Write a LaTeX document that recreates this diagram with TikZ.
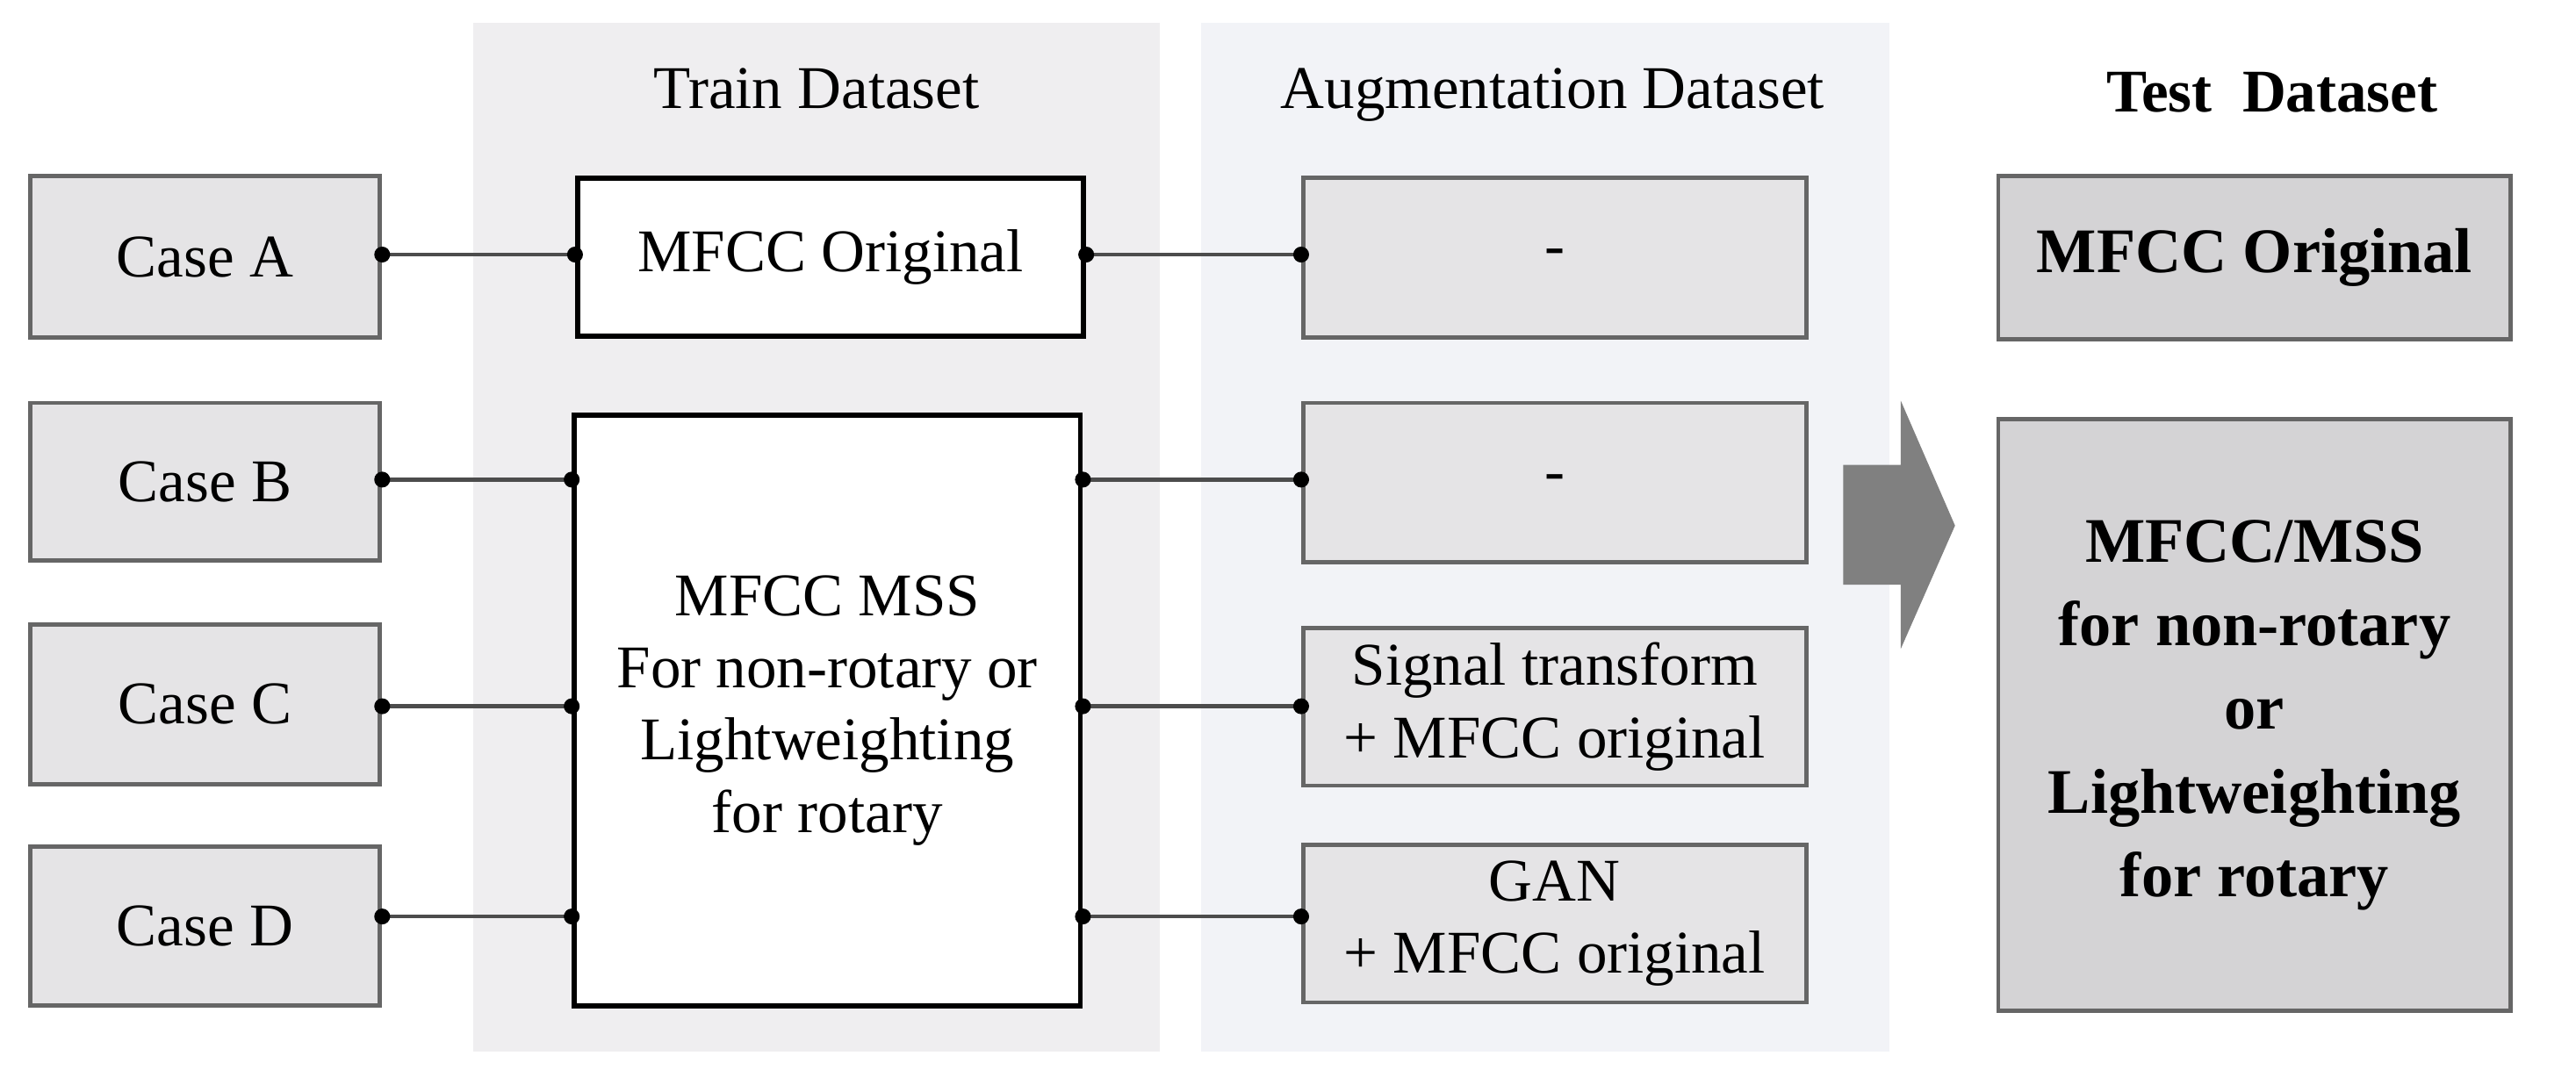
\documentclass[tikz,border=0pt]{standalone}
\usepackage{fontspec}
\setmainfont{Liberation Serif}
\begin{document}
\begin{tikzpicture}[x=0.02cm,y=-0.02cm,
  txt/.style={font=\fontsize{21}{25}\selectfont},
  casebox/.style={draw=gray!80!black,line width=1.5pt,fill=caseg,txt,align=center,inner sep=0},
  trainbox/.style={draw=black,line width=1.8pt,fill=white,txt,align=center,inner sep=0},
  testbox/.style={draw=gray!80!black,line width=1.5pt,fill=testg,font=\bfseries\fontsize{22}{29}\selectfont,align=center,inner sep=0},
  ttl/.style={txt,anchor=base},
  conn/.style={draw=black!70,line width=1.3pt},
  dot/.style={circle,fill=black,inner sep=0,minimum size=5.5pt}]
\definecolor{caseg}{HTML}{E5E4E6}
\definecolor{testg}{HTML}{D4D3D5}
\definecolor{trainbg}{HTML}{EFEEF0}
\definecolor{augbg}{HTML}{F2F3F7}
\definecolor{arrowg}{HTML}{808080}
\useasboundingbox (0,0) rectangle (1568,651);
\fill[white] (0,0) rectangle (1568,651);
\fill[trainbg] (288,14) rectangle (706,640);
\fill[augbg] (731,14) rectangle (1150,640);
\node[ttl] (t1) at (497,66) {Train Dataset};
\node[ttl] (t2) at (945,66) {Augmentation Dataset};
\node[ttl,font=\bfseries\fontsize{21}{25}\selectfont] (t3) at (1383,68) {Test\ \ Dataset};
% cases
\node[casebox,anchor=north west,minimum width=213*0.02cm,minimum height=98*0.02cm] (ca) at (17,106) {Case A};
\node[casebox,anchor=north west,minimum width=213*0.02cm,minimum height=96*0.02cm] (cb) at (17,244) {Case B};
\node[casebox,anchor=north west,minimum width=213*0.02cm,minimum height=97*0.02cm] (cc) at (17,379) {Case C};
\node[casebox,anchor=north west,minimum width=213*0.02cm,minimum height=97*0.02cm] (cd) at (17,514) {Case D};
% train
\node[trainbox,anchor=north west,minimum width=308*0.02cm,minimum height=96*0.02cm] (mo) at (350,107) {MFCC Original};
\node[trainbox,anchor=north west,minimum width=308*0.02cm,minimum height=360*0.02cm] (ms) at (348,251) {MFCC MSS\\For non-rotary or\\Lightweighting\\for rotary};
% aug
\node[casebox,anchor=north west,minimum width=306*0.02cm,minimum height=97*0.02cm] (a1) at (792,107) {-};
\node[casebox,anchor=north west,minimum width=306*0.02cm,minimum height=97*0.02cm] (a2) at (792,244) {-};
\node[casebox,anchor=north west,minimum width=306*0.02cm,minimum height=96*0.02cm] (a3) at (792,381) {Signal transform\\+ MFCC original};
\node[casebox,anchor=north west,minimum width=306*0.02cm,minimum height=96*0.02cm] (a4) at (792,513) {GAN\\+ MFCC original};
% test
\node[testbox,anchor=north west,minimum width=312*0.02cm,minimum height=99*0.02cm] (e1) at (1215,106) {MFCC Original};
\node[testbox,anchor=north west,minimum width=312*0.02cm,minimum height=360*0.02cm] (e2) at (1215,254) {MFCC/MSS\\for non-rotary\\or\\Lightweighting\\for rotary};
% arrow
\fill[arrowg,draw=none] (1122,283) -- (1157,283) -- (1157,244) -- (1190,320) -- (1157,395) -- (1157,356) -- (1122,356) -- cycle;
% connectors
\foreach \a/\b/\y in {ca/mo/155, mo/a1/155, cb/ms/292, ms/a2/292, cc/ms/430, ms/a3/430, cd/ms/558, ms/a4/558}{
  \coordinate (s) at (\a.east |- 0,\y);
  \coordinate (e) at (\b.west |- 0,\y);
  \draw[conn] (s) -- (e);
  \node[dot] at (s) {};
  \node[dot] at (e) {};
}
\end{tikzpicture}
\end{document}
